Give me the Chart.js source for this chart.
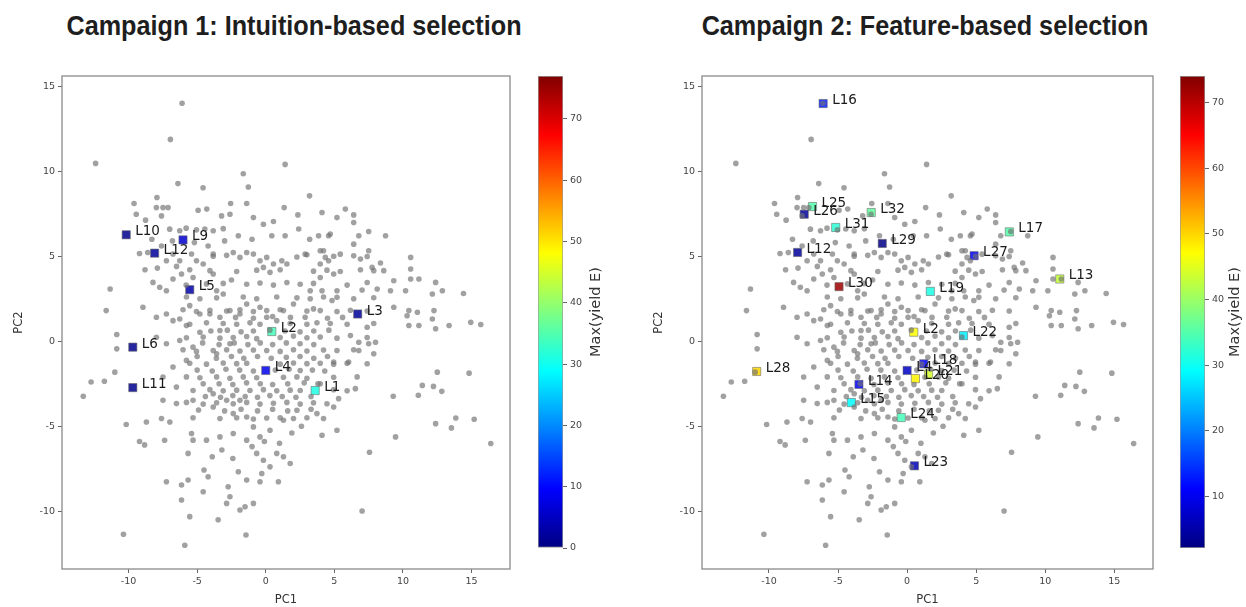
<!DOCTYPE html>
<html>
<head>
<meta charset="utf-8">
<script src="https://cdn.jsdelivr.net/npm/chart.js@4.4.0/dist/chart.umd.min.js"></script>
<style>
  body { margin: 0; width: 1246px; height: 607px; background: #fff; overflow: hidden; position: relative; }
  canvas { position: absolute; }
  .title { position: absolute; top: 10px; transform: translateX(-50%) scaleX(0.9); white-space: nowrap;
           font: bold 28px "Liberation Sans", sans-serif; color: #1e1e1e; }
</style>
</head>
<body>
<div class="title" style="left:294px">Campaign 1: Intuition-based selection</div>
<div class="title" style="left:925px">Campaign 2: Feature-based selection</div>
<canvas id="scatter1" width="530" height="547" style="left:0px;top:60px"></canvas>
<canvas id="bar1" width="110" height="547" style="left:530px;top:60px"></canvas>
<canvas id="scatter2" width="535" height="547" style="left:640px;top:60px"></canvas>
<canvas id="bar2" width="71" height="547" style="left:1175px;top:60px"></canvas>
<script>
// axes
const xTicks = [-10, -5, 0, 5, 10, 15];
const yTicks = [-10, -5, 0, 5, 10, 15];
const cbTicks1 = [0, 10, 20, 30, 40, 50, 60, 70];
const cbTicks2 = [10, 20, 30, 40, 50, 60, 70];
const cbRange1 = [0, 77];
const cbRange2 = [2.2, 74];

// all ligands in PC space (grey), same in both panels
const background = [
  [-6.1,14.0],[-6.95,11.87],[-12.4,10.46],[1.41,10.4],[-1.64,9.85],[-6.4,9.27],[-1.27,9.07],[-4.57,9.03],
  [3.19,8.55],[-9.6,8.1],[-7.93,8.45],[1.34,7.86],[-1.39,8.1],[-2.56,8.1],[4.1,7.57],[2.34,7.43],
  [-7.97,7.86],[-7.49,7.86],[-7.12,7.86],[-7.6,7.37],[-9.44,7.47],[-8.76,7.12],[-4.93,7.7],[-4.3,7.77],
  [-3.22,7.37],[-2.61,7.47],[-0.9,7.27],[-0.17,6.88],[0.56,7.04],[0.44,6.2],[1.41,6.2],[3.85,6.2],[4.58,6.2],
  [-7.0,6.59],[-6.27,6.5],[-5.8,6.65],[-5.05,6.55],[-4.44,6.6],[-3.83,6.5],[-3.1,6.62],
  [5.19,7.27],[5.8,7.77],[6.41,7.43],[6.41,6.98],[4.7,6.3],[6.78,6.2],[7.5,6.45],[8.73,6.2],
  [6.41,5.71],[7.5,5.32],[8.36,4.6],[2.87,5.12],[4.21,5.32],[5.43,5.12],[6.9,4.83],[7.75,4.34],[8.6,4.15],
  [10.56,4.93],[10.56,4.25],[10.56,3.66],[11.16,3.66],[12.38,3.46],[9.33,3.56],[9.09,2.97],[10.19,2.97],
  [12.14,2.78],[12.87,2.97],[14.41,2.81],[7.02,3.01],[8.12,3.07],[4.95,3.95],[3.97,3.75],[5.19,2.97],
  [3.24,2.97],[4.83,2.39],[10.43,1.8],[11.05,1.7],[10.3,1.5],[12.26,1.8],[12.14,1.31],[12.38,0.73],
  [10.43,0.92],[11.16,0.92],[13.36,0.92],[14.94,1.11],[15.67,0.98],[9.33,2.0],
  [7.39,0.82],[6.17,0.33],[6.78,-0.06],[7.5,-0.15],[8.0,-0.06],[6.78,-0.55],[7.87,-0.74],[7.39,-1.33],
  [6.04,-1.23],[4.95,-1.23],[6.53,-2.79],[5.31,-3.38],[4.95,-3.87],[4.1,-5.53],[5.19,-5.24],
  [12.5,-1.82],[14.82,-1.88],[11.41,-2.6],[12.22,-2.66],[12.83,-2.95],[11.12,-3.18],[9.29,-3.24],
  [13.85,-4.52],[15.19,-4.59],[12.38,-4.85],[13.53,-5.1],[9.46,-5.63],[16.4,-6.02],[7.56,-6.53],[7.02,-9.99],
  [-9.2,5.16],[-8.6,5.22],[-6.76,5.13],[-7.24,4.73],[-6.27,4.73],[-5.41,5.13],[-5.05,4.73],[-4.56,4.54],
  [-3.83,5.13],[-2.37,5.22],[-1.88,4.93],[-1.39,5.22],[-0.9,5.13],[-0.42,4.73],[-0.17,4.34],[0.07,4.93],
  [0.56,4.54],[1.17,4.73],[1.54,4.54],[3.97,5.32],[4.34,4.93],[3.97,4.54],[4.58,4.73],
  [-8.22,3.46],[-7.73,3.17],[-7.24,2.97],[-6.76,3.66],[-6.14,3.95],[-5.3,3.75],[-4.07,4.15],[-3.83,3.95],
  [-4.32,3.37],[-3.58,2.97],[-3.1,2.78],[-7.97,1.41],[-7.24,1.6],[-6.27,1.31],[-5.54,2.09],[-4.8,1.6],
  [-4.07,1.6],[-3.34,1.41],[-2.61,1.8],[-1.88,1.6],[-1.39,2.19],[-0.42,2.0],[0.07,1.41],[0.8,1.21],
  [1.29,1.8],[2.02,2.19],[2.87,1.41],[3.48,1.9],[4.1,2.97],[-11.34,3.07],[-11.63,1.8],[-8.95,2.0],
  [-3.83,5.0],[-2.85,5.05],[2.27,4.95],[3.0,5.08],[4.95,5.0],[6.41,5.02],[7.39,4.98],
  [-5.54,4.2],[-2.12,4.1],[-0.66,4.18],[0.31,4.05],[1.05,4.2],[3.48,4.12],[4.46,4.18],[5.43,4.1],[6.9,4.2],[7.87,4.15],
  [-3.1,3.4],[-1.39,3.35],[-0.42,3.42],[0.56,3.3],[1.54,3.45],[2.51,3.35],[3.48,3.4],[5.93,3.3],[7.39,3.45],
  [-5.78,2.6],[-4.8,2.5],[-3.58,2.55],[-1.64,2.6],[-0.66,2.5],[0.8,2.6],[2.27,2.55],[3.24,2.5],[4.21,2.6],
  [5.19,2.58],[6.41,2.5],[7.87,2.56],
  [-6.03,1.85],[-5.05,1.75],[-4.07,1.82],[-2.85,1.78],[-1.88,1.85],[-0.9,1.75],[0.07,1.8],[1.05,1.85],
  [3.0,1.78],[3.97,1.8],[5.19,1.75],[6.17,1.82],[7.39,1.78],
  [-5.54,1.0],[-4.32,1.08],[-3.1,1.04],[-2.12,1.0],[-1.15,1.08],[-0.42,1.0],[1.78,1.04],[3.0,1.0],
  [3.73,1.08],[4.7,1.04],[5.93,1.0],[7.87,1.04],
  [-5.78,0.2],[-4.56,0.25],[-3.34,0.18],[-2.37,0.22],[-1.39,0.28],[-0.66,0.15],[1.05,0.22],[2.02,0.3],
  [3.0,0.2],[3.97,0.25],[5.19,0.18],[7.39,0.22],
  [-6.03,-0.5],[-5.05,-0.6],[-3.83,-0.55],[-2.85,-0.5],[-1.88,-0.58],[-0.9,-0.52],[0.07,-0.55],[1.05,-0.6],
  [2.02,-0.5],[3.0,-0.58],[4.21,-0.52],[5.19,-0.55],[6.41,-0.5],
  [-5.54,-1.3],[-4.32,-1.35],[-3.1,-1.28],[-2.12,-1.32],[-1.39,-1.3],[1.05,-1.35],[2.02,-1.28],[3.0,-1.32],
  [3.97,-1.3],[4.95,-1.35],[5.93,-1.3],
  [-5.78,-2.1],[-4.8,-2.15],[-3.58,-2.1],[-2.61,-2.18],[-1.64,-2.1],[-0.66,-2.15],[1.29,-2.12],[2.27,-2.1],
  [3.0,-2.18],[4.95,-2.12],[6.66,-2.1],
  [-5.3,-2.9],[-4.07,-2.85],[-3.1,-2.92],[-2.12,-2.88],[-1.15,-2.9],[-0.17,-2.85],[0.8,-2.92],[1.78,-2.88],
  [2.51,-2.9],[4.95,-2.85],[5.93,-2.92],
  [-5.78,-3.6],[-4.56,-3.7],[-3.58,-3.62],[-2.37,-3.68],[-1.39,-3.6],[-0.42,-3.7],[0.56,-3.65],[1.54,-3.6],
  [2.51,-3.7],[3.48,-3.62],[4.46,-3.68],
  [-5.3,-4.5],[-3.34,-4.55],[-2.12,-4.5],[-0.9,-4.58],[0.07,-4.52],[1.05,-4.5],[2.02,-4.55],[3.0,-4.5],[4.21,-4.55],
  [-6.76,1.21],[-5.78,0.92],[-7.97,0.23],[-7.24,-0.15],[-6.27,0.04],[-5.3,-0.35],[-4.8,0.53],[-3.34,0.63],
  [-2.61,-0.15],[-3.58,-0.74],[-5.78,-1.13],[-6.76,-1.52],[-7.49,-2.11],[-6.51,-2.7],[-4.56,-2.5],
  [-3.83,-3.09],[-5.3,-3.48],[-6.51,-3.67],[-7.49,-3.48],[-3.83,-3.87],[-2.85,-3.48],[-2.37,-4.26],
  [-1.88,-3.48],[-1.39,-4.46],[-0.9,-5.04],[-2.37,-5.43],[-3.34,-5.63],[-4.32,-5.82],[-1.39,-5.82],
  [-0.42,-5.63],[0.31,-5.24],[1.29,-4.65],[2.27,-4.06],[3.73,-4.26],[3.97,-2.5],[2.51,-1.72],
  [-10.86,0.39],[-10.86,-0.45],[-11.0,-1.82],[-12.73,-2.4],[-11.76,-2.36],[-13.3,-3.24],[-10.17,-4.9],
  [-8.7,-4.75],[-7.6,-4.55],[-6.99,-4.75],[-9.2,-5.9],[-8.83,-6.1],[-7.37,-5.83],[-5.66,-6.6],[-5.41,-5.43],
  [-5.3,-5.82],[-7.24,-8.27],[-6.14,-8.46],[-5.66,-8.17],[-4.5,-7.58],[-4.2,-7.97],[-4.56,-8.86],
  [-6.14,-9.34],[-5.54,-10.32],[-3.47,-10.5],[-2.85,-9.54],[-2.61,-9.15],[-2.74,-8.56],[-2.0,-7.68],
  [-1.39,-8.17],[-1.88,-9.93],[-1.51,-9.74],[-0.9,-9.54],[-0.42,-8.27],[-0.29,-7.78],[-0.17,-7.0],
  [-0.66,-6.6],[0.31,-7.39],[0.92,-8.27],[-10.37,-11.36],[-5.9,-12.0],[-1.44,-11.4],[1.78,-7.19],
  [0.8,-6.6],[1.29,-6.8],[-3.2,-6.4],[-2.4,-6.9],[-1.0,-6.2],[-3.9,-6.8],[1.9,-5.4],[2.6,-5.0],
  [-0.1,-5.9],[1.0,-6.0],
  // dense core, between the rows above
  [-4.6,-0.1],[-3.4,-0.2],[-2.3,-0.1],[-1.3,-0.2],[-0.4,-0.1],[0.5,-0.2],[1.5,-0.1],[2.5,-0.15],[3.5,-0.2],
  [-5.0,-0.9],[-3.6,-1.0],[-2.5,-0.9],[-1.6,-1.0],[-0.6,-0.9],[0.4,-1.0],[1.5,-0.95],[2.5,-0.9],[3.5,-1.0],[4.5,-0.9],
  [-5.0,-1.7],[-3.9,-1.75],[-2.9,-1.65],[-1.9,-1.7],[-0.9,-1.75],[0.7,-1.7],[1.7,-1.65],[3.4,-1.7],[4.3,-1.75],
  [-3.4,-2.5],[-2.4,-2.55],[-1.4,-2.45],[-0.4,-2.5],[0.5,-2.55],[1.6,-2.5],[2.8,-2.45],[3.8,-2.5],
  [-4.4,-3.25],[-3.3,-3.3],[-2.4,-3.2],[-1.5,-3.25],[-0.6,-3.3],[0.3,-3.2],[1.2,-3.25],[2.2,-3.3],[3.3,-3.25],
  [-4.9,-4.05],[-3.0,-4.1],[-1.8,-4.0],[-0.6,-4.1],[0.5,-4.0],[1.6,-4.1],[3.3,-4.0],
  [-4.0,0.6],[-2.8,0.65],[-1.8,0.55],[-0.9,0.6],[0.3,0.65],[1.4,0.6],[2.5,0.55],[3.5,0.6],[4.6,0.65],
  [-2.2,1.4],[-0.9,1.35],[0.5,1.45],[1.8,1.4],[4.5,1.35],[5.6,1.4],
  [-8.3,6.0],[-7.6,5.6],[-6.8,5.9],[-5.2,5.8],[-4.2,5.6],[-3.0,5.9],[-8.8,4.2],[-7.9,4.3],[-6.5,4.4],
  [-5.8,3.3],[-2.5,3.6],[-2.0,6.2],[-1.0,6.0],[2.4,6.6],[3.2,6.0]
];

// campaign 1: intuition-based picks
const c1Names = ["L10", "L12", "L9", "L5", "L2", "L4", "L6", "L11", "L1", "L3"];
const c1PC1 = [-10.17, -8.1, -6.03, -5.54, 0.44, 0.0, -9.69, -9.69, 3.6, 6.7];
const c1PC2 = [6.26, 5.18, 5.96, 3.03, 0.57, -1.72, -0.35, -2.73, -2.9, 1.6];
const c1Yield = [1, 2, 6, 3, 34, 8, 1, 1, 31, 2];

// campaign 2: feature-based picks
const c2Names = ["L16", "L25", "L26", "L32", "L31", "L29", "L12", "L30", "L19", "L27", "L17", "L13",
                 "L2", "L22", "L28", "L4", "L18", "L20", "L21", "L14", "L15", "L24", "L23"];
const c2PC1 = [-6.08, -6.85, -7.45, -2.6, -5.17, -1.8, -7.93, -4.93, 1.68, 4.85, 7.4, 11.05,
               0.48, 4.08, -10.89, 0.0, 1.2, 0.6, 1.55, -3.49, -4.04, -0.43, 0.53];
const c2PC2 = [13.98, 7.92, 7.47, 7.57, 6.69, 5.75, 5.22, 3.21, 2.93, 5.03, 6.43, 3.66,
               0.53, 0.33, -1.78, -1.72, -1.33, -2.2, -1.95, -2.54, -3.61, -4.49, -7.33];
const c2Yield = [13, 35, 4, 36, 32, 2.5, 4, 72, 31, 10, 35, 43,
                 47, 28, 50, 7, 11, 48, 44, 10, 29, 34, 6];

const clamp = v => Math.max(0, Math.min(1, v));
function jet(t, a) {
    t = clamp(t);
    const r = clamp(1.5 - Math.abs(4 * t - 3));
    const g = clamp(1.5 - Math.abs(4 * t - 2));
    const b = clamp(1.5 - Math.abs(4 * t - 1));
    return `rgba(${Math.round(r * 255)},${Math.round(g * 255)},${Math.round(b * 255)},${a})`;
}

const tickFont = { family: "DejaVu Sans", size: 9.5 };
const tickColor = "#444";

// full box around the plot area (matplotlib spines)
const framePlugin = {
    id: 'frame',
    beforeDatasetsDraw(chart) {
        const { ctx, chartArea: a } = chart;
        ctx.save();
        ctx.strokeStyle = '#8a8a8a';
        ctx.lineWidth = 1.3;
        ctx.strokeRect(a.left, a.top, a.right - a.left, a.bottom - a.top);
        ctx.restore();
    }
};

const labelPlugin = {
    id: 'pointLabels',
    afterDatasetsDraw(chart) {
        const ds = chart.data.datasets[1];
        const meta = chart.getDatasetMeta(1);
        const ctx = chart.ctx;
        ctx.save();
        ctx.font = '13.5px "DejaVu Sans"';
        ctx.fillStyle = '#1a1a1a';
        ctx.textBaseline = 'middle';
        meta.data.forEach((pt, i) => {
            ctx.fillText(ds.names[i], pt.x + 9, pt.y - 3);
        });
        ctx.restore();
    }
};

function createScatter(id, names, xs, ys, vals, range, rightPad) {
    const span = range[1] - range[0];
    return new Chart(document.getElementById(id), {
        type: 'scatter',
        data: {
            datasets: [
                {
                    data: background.map(p => ({ x: p[0], y: p[1] })),
                    pointStyle: 'circle',
                    pointRadius: 2.8,
                    pointBackgroundColor: 'rgba(112,112,112,0.66)',
                    pointBorderWidth: 0
                },
                {
                    names: names,
                    data: xs.map((x, i) => ({ x: x, y: ys[i] })),
                    pointStyle: 'rect',
                    pointRadius: 5.8,
                    pointBackgroundColor: vals.map(v => jet((v - range[0]) / span, 0.85)),
                    pointBorderColor: 'rgba(100,100,100,0.7)',
                    pointBorderWidth: 0.8
                }
            ]
        },
        options: {
            responsive: false,
            animation: false,
            events: [],
            layout: { padding: { left: 0, right: rightPad, top: 16, bottom: 0 } },
            plugins: { legend: { display: false }, tooltip: { enabled: false } },
            scales: {
                x: {
                    type: 'linear', min: -14.85, max: 17.8,
                    afterBuildTicks: s => { s.ticks = xTicks.map(v => ({ value: v })); },
                    afterFit: s => { s.height = 38; },
                    ticks: { font: tickFont, color: tickColor, padding: 3, maxRotation: 0 },
                    grid: { drawOnChartArea: false, tickLength: 4, color: '#666' },
                    border: { display: false },
                    title: { display: true, text: 'PC1', color: '#333',
                             font: { family: "DejaVu Sans", size: 11.5 }, padding: { top: 2, bottom: 0 } }
                },
                y: {
                    type: 'linear', min: -13.4, max: 15.6,
                    afterBuildTicks: s => { s.ticks = yTicks.map(v => ({ value: v })); },
                    afterFit: s => { s.width = 62; },
                    ticks: { font: tickFont, color: tickColor, padding: 3 },
                    grid: { drawOnChartArea: false, tickLength: 4, color: '#666' },
                    border: { display: false },
                    title: { display: true, text: 'PC2', color: '#333',
                             font: { family: "DejaVu Sans", size: 11.5 }, padding: { top: 12, bottom: 0 } }
                }
            }
        },
        plugins: [framePlugin, labelPlugin]
    });
}

function createColorbar(id, range, tickVals, padLeft, axisWidth, labelGap) {
    const cbLabel = {
        id: 'cbLabel',
        afterDraw(chart) {
            const { ctx, chartArea: a } = chart;
            ctx.save();
            ctx.translate(a.right + labelGap, (a.top + a.bottom) / 2);
            ctx.rotate(-Math.PI / 2);
            ctx.font = '14.5px "DejaVu Sans"';
            ctx.fillStyle = '#333';
            ctx.textAlign = 'center';
            ctx.textBaseline = 'middle';
            ctx.fillText('Max(yield E)', 0, 0);
            ctx.restore();
        }
    };
    return new Chart(document.getElementById(id), {
        type: 'bar',
        data: {
            labels: [''],
            datasets: [{
                data: [[range[0], range[1]]],
                backgroundColor: c => {
                    const a = c.chart.chartArea;
                    if (!a) return '#888';
                    const g = c.chart.ctx.createLinearGradient(0, a.bottom, 0, a.top);
                    for (let i = 0; i <= 40; i++) g.addColorStop(i / 40, jet(i / 40, 1));
                    return g;
                },
                borderColor: '#9a9a9a',
                borderWidth: 1,
                borderSkipped: false,
                barPercentage: 1,
                categoryPercentage: 1
            }]
        },
        options: {
            responsive: false,
            animation: false,
            events: [],
            layout: { padding: { left: padLeft, right: 0, top: 16, bottom: 59 } },
            plugins: { legend: { display: false }, tooltip: { enabled: false } },
            scales: {
                x: { display: false },
                y: {
                    position: 'right', min: range[0], max: range[1],
                    afterBuildTicks: s => { s.ticks = tickVals.map(v => ({ value: v })); },
                    afterFit: s => { s.width = axisWidth; },
                    ticks: { font: tickFont, color: tickColor, padding: 3 },
                    grid: { drawOnChartArea: false, tickLength: 4, color: '#666' },
                    border: { display: false }
                }
            }
        },
        plugins: [cbLabel]
    });
}

createScatter('scatter1', c1Names, c1PC1, c1PC2, c1Yield, cbRange1, 20);
createColorbar('bar1', cbRange1, cbTicks1, 8, 77, 33);
createScatter('scatter2', c2Names, c2PC1, c2PC2, c2Yield, cbRange2, 22);
createColorbar('bar2', cbRange2, cbTicks2, 5, 41, 30);
</script>
</body>
</html>
